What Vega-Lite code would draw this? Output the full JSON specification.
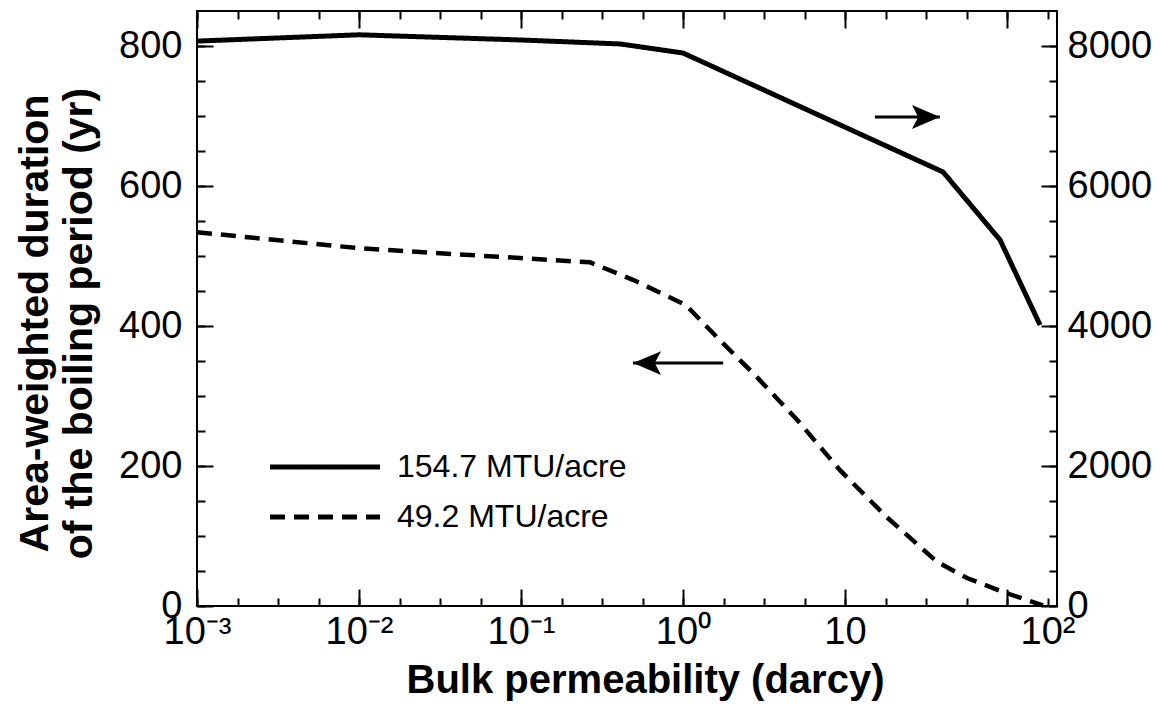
{
  "$schema": "https://vega.github.io/schema/vega-lite/v6.json",
  "width": 860,
  "height": 595,
  "autosize": {"type": "none"},
  "padding": {"left": 197, "top": 11, "right": 103, "bottom": 105},
  "background": "white",
  "config": {
    "font": "Liberation Sans",
    "view": {"stroke": "black", "strokeWidth": 2},
    "axis": {
      "domain": false, "ticks": true, "zindex": 1,
      "tickColor": "black", "tickWidth": 2, "tickOpacity": 1,
      "labelColor": "black", "titleColor": "black",
      "grid": false,
      "labelFont": "Liberation Sans", "titleFont": "Liberation Sans",
      "labelFontSize": 38, "titleFontSize": 40, "titleFontWeight": "bold"
    }
  },
  "datasets": {
    "dashed": [
      {"k": 0.001, "dur": 534, "series": "49.2 MTU/acre"},
      {"k": 0.0101, "dur": 511, "series": "49.2 MTU/acre"},
      {"k": 0.0986, "dur": 497, "series": "49.2 MTU/acre"},
      {"k": 0.267, "dur": 491, "series": "49.2 MTU/acre"},
      {"k": 0.491, "dur": 466, "series": "49.2 MTU/acre"},
      {"k": 0.701, "dur": 449, "series": "49.2 MTU/acre"},
      {"k": 1.04, "dur": 430, "series": "49.2 MTU/acre"},
      {"k": 1.62, "dur": 384, "series": "49.2 MTU/acre"},
      {"k": 2.86, "dur": 327, "series": "49.2 MTU/acre"},
      {"k": 5.06, "dur": 266, "series": "49.2 MTU/acre"},
      {"k": 9.31, "dur": 194, "series": "49.2 MTU/acre"},
      {"k": 18.1, "dur": 127, "series": "49.2 MTU/acre"},
      {"k": 37.0, "dur": 63, "series": "49.2 MTU/acre"},
      {"k": 56.6, "dur": 40, "series": "49.2 MTU/acre"},
      {"k": 94.4, "dur": 20, "series": "49.2 MTU/acre"},
      {"k": 166.7, "dur": 1, "series": "49.2 MTU/acre"}
    ],
    "solid": [
      {"k": 0.001, "dur": 8070, "series": "154.7 MTU/acre"},
      {"k": 0.01, "dur": 8160, "series": "154.7 MTU/acre"},
      {"k": 0.1, "dur": 8086, "series": "154.7 MTU/acre"},
      {"k": 0.41, "dur": 8029, "series": "154.7 MTU/acre"},
      {"k": 1.0, "dur": 7900, "series": "154.7 MTU/acre"},
      {"k": 40.3, "dur": 6200, "series": "154.7 MTU/acre"},
      {"k": 90.6, "dur": 5229, "series": "154.7 MTU/acre"},
      {"k": 160, "dur": 4014, "series": "154.7 MTU/acre"}
    ],
    "arrowL": [{"k1": 1.77, "k2": 0.491, "kh": 0.6, "v": 347}],
    "arrowR": [{"k1": 15.3, "k2": 38.5, "kh": 31.6, "v": 6986}]
  },
  "resolve": {"scale": {"y": "independent"}, "axis": {"x": "independent", "y": "independent"}},
  "layer": [
    {
      "resolve": {"axis": {"x": "independent", "y": "independent"}},
      "layer": [
        {
          "data": {"name": "dashed"},
          "mark": {"type": "line", "color": "black", "strokeWidth": 4.5},
          "encoding": {
            "x": {
              "field": "k", "type": "quantitative",
              "scale": {"type": "log", "domain": [0.001, 203.5], "nice": false},
              "axis": {
                "orient": "bottom",
                "title": "Bulk permeability (darcy)",
                "titleX": 448, "titleY": 103, "titleBaseline": "alphabetic", "titleAlign": "center",
                "values": [0.001, 0.01, 0.1, 1, 10, 100],
                "labels": false, "domain": false, "ticks": true, "tickColor": "black", "tickWidth": 2,
                "tickSize": 17, "offset": -17
              }
            },
            "y": {
              "field": "dur", "type": "quantitative",
              "scale": {"domain": [0, 850], "nice": false},
              "axis": {
                "orient": "left",
                "title": ["Area-weighted duration", "of the boiling period (yr)"],
                "titleX": -198, "titleY": 312, "titleBaseline": "top", "titleAlign": "center", "titleAngle": -90,
                "titleLineHeight": 44, "titleFontSize": 41,
                "values": [0, 200, 400, 600, 800],
                "labels": false, "domain": false, "ticks": true, "tickColor": "black", "tickWidth": 2,
                "tickSize": 16, "offset": -16
              }
            },
            "strokeDash": {
              "field": "series", "type": "nominal",
              "scale": {"domain": ["154.7 MTU/acre", "49.2 MTU/acre"], "range": [[1, 0], [15, 9]]},
              "legend": {
                "orient": "none", "legendX": 112, "legendY": 440, "title": null,
                "symbolType": "M-5,0H5", "symbolSize": 484, "symbolStrokeWidth": 5,
                "symbolStrokeColor": "black", "symbolFillColor": "transparent", "labelFontSize": 32, "labelColor": "black",
                "labelFont": "Liberation Sans", "labelOffset": 56, "labelLimit": 0, "rowPadding": 18, "padding": 0
              }
            }
          }
        },
        {
          "data": {"name": "arrowL"},
          "mark": {"type": "rule", "color": "black", "strokeWidth": 3},
          "encoding": {
            "x": {
              "field": "k1", "type": "quantitative",
              "axis": {
                "orient": "bottom", "title": null,
                "values": [0.001, 0.0017783, 0.0031623, 0.0056234, 0.01, 0.017783, 0.031623, 0.056234, 0.1, 0.17783, 0.31623, 0.56234, 1, 1.7783, 3.1623, 5.6234, 10, 17.783, 31.623, 56.234, 100, 177.83],
                "labelExpr": "datum.value == 0.001 ? '10⁻³' : datum.value == 0.01 ? '10⁻²' : datum.value == 0.1 ? '10⁻¹' : datum.value == 1 ? '10⁰' : datum.value == 10 ? '10' : datum.value == 177.83 ? '10²' : ''",
                "domain": false, "ticks": true, "tickColor": "black", "tickWidth": 2,
                "tickSize": 8, "offset": -8,
                "labelPadding": 7,
                "labelFlush": false,
                "labelOverlap": false
              }
            },
            "x2": {"field": "k2"},
            "y": {
              "field": "v", "type": "quantitative",
              "axis": {
                "orient": "left", "title": null,
                "values": [0, 50, 100, 150, 200, 250, 300, 350, 400, 450, 500, 550, 600, 650, 700, 750, 800],
                "labelExpr": "datum.value % 200 == 0 ? datum.label : ''",
                "domain": false, "ticks": true, "tickColor": "black", "tickWidth": 2,
                "tickSize": 8, "offset": -8,
                "labelPadding": 15,
                "labelOverlap": false
              }
            }
          }
        },
        {
          "data": {"name": "arrowL"},
          "mark": {"type": "point", "filled": true, "color": "black", "opacity": 1, "size": 784, "shape": "M-1,0L1,-0.85L0.55,0L1,0.85Z"},
          "encoding": {
            "x": {"field": "kh", "type": "quantitative", "axis": null},
            "y": {"field": "v", "type": "quantitative", "axis": null}
          }
        }
      ]
    },
    {
      "resolve": {"axis": {"x": "independent", "y": "independent"}},
      "layer": [
        {
          "data": {"name": "solid"},
          "mark": {"type": "line", "color": "black", "strokeWidth": 5},
          "encoding": {
            "x": {
              "field": "k", "type": "quantitative",
              "scale": {"type": "log", "domain": [0.001, 203.5], "nice": false},
              "axis": {
                "orient": "top", "title": null, "labels": false,
                "values": [0.001, 0.01, 0.1, 1, 10, 100],
                "domain": false, "ticks": true, "tickColor": "black", "tickWidth": 2,
                "tickSize": 17, "offset": -17
              }
            },
            "y": {
              "field": "dur", "type": "quantitative",
              "scale": {"domain": [0, 8500], "nice": false},
              "axis": {
                "orient": "right", "title": null, "labels": false,
                "values": [0, 2000, 4000, 6000, 8000],
                "domain": false, "ticks": true, "tickColor": "black", "tickWidth": 2,
                "tickSize": 16, "offset": -16
              }
            },
            "strokeDash": {
              "field": "series", "type": "nominal",
              "scale": {"domain": ["154.7 MTU/acre", "49.2 MTU/acre"], "range": [[1, 0], [15, 9]]},
              "legend": {
                "orient": "none", "legendX": 112, "legendY": 440, "title": null,
                "symbolType": "M-5,0H5", "symbolSize": 484, "symbolStrokeWidth": 5,
                "symbolStrokeColor": "black", "symbolFillColor": "transparent", "labelFontSize": 32, "labelColor": "black",
                "labelFont": "Liberation Sans", "labelOffset": 56, "labelLimit": 0, "rowPadding": 18, "padding": 0
              }
            }
          }
        },
        {
          "data": {"name": "arrowR"},
          "mark": {"type": "rule", "color": "black", "strokeWidth": 3},
          "encoding": {
            "x": {
              "field": "k1", "type": "quantitative",
              "axis": {
                "orient": "top", "title": null, "labels": false,
                "values": [0.001, 0.0017783, 0.0031623, 0.0056234, 0.01, 0.017783, 0.031623, 0.056234, 0.1, 0.17783, 0.31623, 0.56234, 1, 1.7783, 3.1623, 5.6234, 10, 17.783, 31.623, 56.234, 100, 177.83],
                "domain": false, "ticks": true, "tickColor": "black", "tickWidth": 2,
                "tickSize": 8, "offset": -8
              }
            },
            "x2": {"field": "k2"},
            "y": {
              "field": "v", "type": "quantitative",
              "axis": {
                "orient": "right", "title": null,
                "values": [0, 500, 1000, 1500, 2000, 2500, 3000, 3500, 4000, 4500, 5000, 5500, 6000, 6500, 7000, 7500, 8000],
                "labelExpr": "datum.value % 2000 == 0 ? format(datum.value, 'd') : ''",
                "domain": false, "ticks": true, "tickColor": "black", "tickWidth": 2,
                "tickSize": 8, "offset": -8,
                "labelPadding": 10,
                "labelOverlap": false
              }
            }
          }
        },
        {
          "data": {"name": "arrowR"},
          "mark": {"type": "point", "filled": true, "color": "black", "opacity": 1, "size": 784, "shape": "M1,0L-1,-0.85L-0.55,0L-1,0.85Z"},
          "encoding": {
            "x": {"field": "kh", "type": "quantitative", "axis": null},
            "y": {"field": "v", "type": "quantitative", "axis": null}
          }
        }
      ]
    }
  ]
}
